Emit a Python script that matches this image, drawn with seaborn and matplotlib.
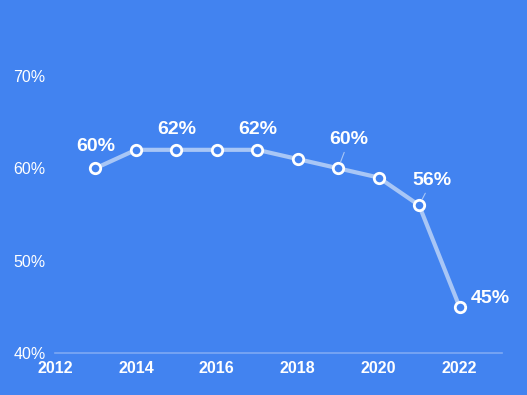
import matplotlib
matplotlib.use("Agg")
import matplotlib.pyplot as plt
import seaborn as sns
import pandas as pd

years = [2013, 2014, 2015, 2016, 2017, 2018, 2019, 2020, 2021, 2022]
values = [60, 62, 62, 62, 62, 61, 60, 59, 56, 45]
labeled_years = [2013, 2015, 2017, 2019, 2021, 2022]
x_ticks = [2012, 2014, 2016, 2018, 2020, 2022]
y_ticks = [40, 50, 60, 70]

BG = "#4283F0"
LINE = "#A8C6F6"

sns.set_theme(style="white")
plt.rcParams['font.family'] = ['Liberation Sans', 'DejaVu Sans']

fig = plt.figure(figsize=(5.27, 3.95), dpi=100, facecolor=BG)
ax = fig.add_axes([55/527, 42/395, 447/527, 314/395])
ax.set_facecolor(BG)

df = pd.DataFrame({"year": years, "value": values})
sns.lineplot(data=df, x="year", y="value", ax=ax, color=LINE, linewidth=3,
             marker="o", markersize=7.5, markerfacecolor=BG,
             markeredgecolor="white", markeredgewidth=2)

ax.set_xlim(2012, 2023.05)
ax.set_ylim(40, 74)
ax.set_xticks(x_ticks)
ax.set_xticklabels([str(x) for x in x_ticks], color="white", fontsize=11.5, fontweight="bold")
ax.set_yticks(y_ticks)
ax.set_yticklabels([f"{y}%" for y in y_ticks], color="white", fontsize=11.5, ha="left")
ax.tick_params(axis="y", length=0, pad=30)
ax.tick_params(axis="x", length=0, pad=6)
ax.set_xlabel("")
ax.set_ylabel("")
for s in ["top", "right", "left"]:
    ax.spines[s].set_visible(False)
ax.spines["bottom"].set_color("#7EA9F4")
ax.spines["bottom"].set_linewidth(1.2)
ax.grid(False)

offsets = {2013: (0, 22), 2015: (0, 20), 2017: (0, 20), 2019: (11, 29), 2021: (13, 25), 2022: (31, 8)}
for yr in labeled_years:
    v = values[years.index(yr)]
    dx, dy = offsets[yr]
    lead = yr in (2019, 2021, 2022)
    ax.annotate(f"{v}%", xy=(yr, v), xytext=(dx * 0.72, dy * 0.72), textcoords="offset points",
                ha="center", va="center", color="white", fontsize=14, fontweight="bold",
                arrowprops=dict(arrowstyle="-", color="#A8C6F6", lw=0.8, shrinkA=1, shrinkB=5) if lead else None)

fig.savefig("out.png", dpi=100, facecolor=BG)
